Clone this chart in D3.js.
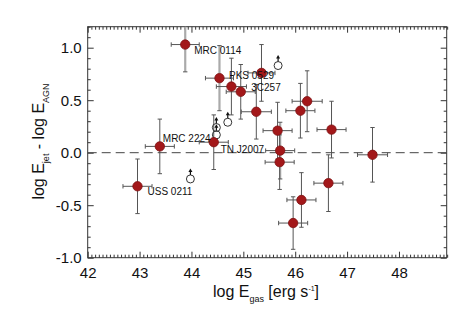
<!DOCTYPE html>
<html>
<head>
<meta charset="utf-8">
<script src="https://cdn.jsdelivr.net/npm/d3@7"></script>
<style>
  html, body { margin: 0; padding: 0; background: #fff; }
  svg { display: block; font-family: "Liberation Sans", Arial, Helvetica, sans-serif; }
</style>
</head>
<body>
<svg id="chart" width="472" height="314"></svg>
<script>
// measured points: log E_gas vs log E_jet - log E_AGN
const logEgas = [43.88, 44.54, 44.77, 44.95, 45.35, 45.25, 45.66, 45.71, 45.70, 46.10,
                 46.23, 46.70, 47.49, 46.64, 46.12, 45.96, 42.96, 43.39, 44.43];
const logRatio = [1.03, 0.71, 0.63, 0.58, 0.76, 0.39, 0.21, 0.02, -0.09, 0.40,
                  0.49, 0.22, -0.02, -0.29, -0.45, -0.67, -0.32, 0.06, 0.10];
const xErr = [0.27, 0.27, 0.29, 0.28, 0.26, 0.29, 0.28, 0.28, 0.28, 0.28,
              0.29, 0.28, 0.29, 0.28, 0.28, 0.28, 0.28, 0.28, 0.28];
const yErr = [0.26, 0.31, 0.27, 0.26, 0.27, 0.26, 0.27, 0.27, 0.26, 0.26,
              0.29, 0.27, 0.26, 0.27, 0.26, 0.25, 0.26, 0.26, 0.26];
// points whose vertical error bar is drawn in light grey
const lightYErr = [0, 1, 7];

// lower limits (open circles with arrows)
const limEgas = [45.67, 44.70, 44.48, 44.48, 43.98];
const limRatio = [0.83, 0.29, 0.24, 0.17, -0.25];

// source names and the point they belong to
const labelNames = ['MRC 0114', 'PKS 0529', '3C257', 'MRC 2224', 'TN J2007', 'USS 0211'];
const labelPoint = [0, 1, 3, 17, 18, 16];

const xTicks = [42, 43, 44, 45, 46, 47, 48];
const yTicks = [-1.0, -0.5, 0.0, 0.5, 1.0];

const W = 472, H = 314;
const L = 87.7, R = 446.7, T = 26.7, B = 257.7;

const svg = d3.select('#chart');
svg.append('rect').attr('width', W).attr('height', H).attr('fill', '#fff');

const x = d3.scaleLinear().domain([42, 48.92]).range([L, R]);
const y = d3.scaleLinear().domain([-1, 1.2]).range([B, T]);

const fmt = v => d3.format('.1f')(v).replace('\u2212', '-');
const axisCol = '#333';

const xMinor = d3.range(42, 48.93, 1 / 14).filter(v => Math.abs(v - Math.round(v)) > 1e-6);
const yMinor = d3.range(-1, 1.201, 0.1).filter(v => Math.abs(v * 2 - Math.round(v * 2)) > 1e-6);

function styleAxis(g) {
  g.select('.domain').remove();
  g.selectAll('line').attr('stroke', axisCol);
  g.selectAll('text').attr('fill', '#111').attr('font-size', 15)
    .attr('font-family', '"Liberation Sans", Arial, Helvetica, sans-serif');
}

// major + minor ticks on all four sides, pointing in
svg.append('g').attr('transform', `translate(0,${B})`)
  .call(d3.axisBottom(x).tickValues(xTicks).tickSize(-6).tickPadding(10).tickFormat(d3.format('d')))
  .call(styleAxis);
svg.append('g').attr('transform', `translate(0,${B})`)
  .call(d3.axisBottom(x).tickValues(xMinor).tickSize(-3).tickFormat(''))
  .call(styleAxis);
svg.append('g').attr('transform', `translate(0,${T})`)
  .call(d3.axisTop(x).tickValues(xTicks).tickSize(-6).tickFormat(''))
  .call(styleAxis);
svg.append('g').attr('transform', `translate(0,${T})`)
  .call(d3.axisTop(x).tickValues(xMinor).tickSize(-3).tickFormat(''))
  .call(styleAxis);

svg.append('g').attr('transform', `translate(${L},0)`)
  .call(d3.axisLeft(y).tickValues(yTicks).tickSize(-6).tickPadding(6).tickFormat(fmt))
  .call(styleAxis);
svg.append('g').attr('transform', `translate(${L},0)`)
  .call(d3.axisLeft(y).tickValues(yMinor).tickSize(-3).tickFormat(''))
  .call(styleAxis);
svg.append('g').attr('transform', `translate(${R},0)`)
  .call(d3.axisRight(y).tickValues(yTicks).tickSize(-6).tickFormat(''))
  .call(styleAxis);
svg.append('g').attr('transform', `translate(${R},0)`)
  .call(d3.axisRight(y).tickValues(yMinor).tickSize(-3).tickFormat(''))
  .call(styleAxis);

svg.append('rect')
  .attr('x', L).attr('y', T).attr('width', R - L).attr('height', B - T)
  .attr('fill', 'none').attr('stroke', axisCol).attr('stroke-width', 1);

// clip everything inside the frame
svg.append('defs').append('clipPath').attr('id', 'plot-clip')
  .append('rect').attr('x', L).attr('y', T).attr('width', R - L).attr('height', B - T);
const plot = svg.append('g').attr('clip-path', 'url(#plot-clip)');

// zero line
plot.append('line')
  .attr('x1', L).attr('x2', R).attr('y1', y(0)).attr('y2', y(0))
  .attr('stroke', '#444').attr('stroke-width', 1).attr('stroke-dasharray', '9 5');

const pts = logEgas.map((v, i) => ({
  x: v, y: logRatio[i], xe: xErr[i], ye: yErr[i], light: lightYErr.includes(i)
}));

const cap = 2.2;
const eb = plot.append('g').selectAll('g').data(pts).join('g');

// horizontal error bars
eb.append('line')
  .attr('x1', d => x(d.x - d.xe)).attr('x2', d => x(d.x + d.xe))
  .attr('y1', d => y(d.y)).attr('y2', d => y(d.y))
  .attr('stroke', '#555').attr('stroke-width', 1);
eb.selectAll('line.xcap').data(d => [[d.x - d.xe, d.y], [d.x + d.xe, d.y]]).join('line')
  .attr('class', 'xcap')
  .attr('x1', d => x(d[0])).attr('x2', d => x(d[0]))
  .attr('y1', d => y(d[1]) - cap).attr('y2', d => y(d[1]) + cap)
  .attr('stroke', '#555');

// vertical error bars
eb.append('line')
  .attr('x1', d => x(d.x)).attr('x2', d => x(d.x))
  .attr('y1', d => y(d.y - d.ye)).attr('y2', d => y(d.y + d.ye))
  .attr('stroke', d => d.light ? '#aaa' : '#555')
  .attr('stroke-width', d => d.light ? 2.2 : 1);
eb.selectAll('line.ycap').data(d => [[d.x, d.y - d.ye], [d.x, d.y + d.ye]]).join('line')
  .attr('class', 'ycap')
  .attr('x1', d => x(d[0]) - cap).attr('x2', d => x(d[0]) + cap)
  .attr('y1', d => y(d[1])).attr('y2', d => y(d[1]))
  .attr('stroke', '#555');

// lower limits
const lim = plot.append('g').selectAll('g')
  .data(limEgas.map((v, i) => ({ x: v, y: limRatio[i] })))
  .join('g')
  .attr('transform', d => `translate(${x(d.x)},${y(d.y)})`);
lim.append('circle').attr('r', 4).attr('fill', 'none').attr('stroke', '#333').attr('stroke-width', 1);
lim.append('line').attr('x1', 0).attr('x2', 0).attr('y1', -4).attr('y2', -8)
  .attr('stroke', '#111').attr('stroke-width', 1.2);
lim.append('path').attr('d', 'M0,-10.5L-2,-7L2,-7Z').attr('fill', '#111');

// filled points
plot.append('g').selectAll('circle').data(pts).join('circle')
  .attr('cx', d => x(d.x)).attr('cy', d => y(d.y)).attr('r', 4.7)
  .attr('fill', '#a3181a').attr('stroke', '#7d1012').attr('stroke-width', 0.8);

// source labels, offset from their points
const labelOffset = [[9, 9.5], [9.5, 0.5], [10.5, -1], [3, -4], [7, 10.5], [10, 8.5]];
svg.append('g').selectAll('text').data(labelNames).join('text')
  .attr('x', (d, i) => x(logEgas[labelPoint[i]]) + labelOffset[i][0])
  .attr('y', (d, i) => y(logRatio[labelPoint[i]]) + labelOffset[i][1])
  .attr('font-size', 10).attr('fill', '#111')
  .text(d => d);

// axis titles
const xt = svg.append('text').attr('x', 266).attr('y', 296.5)
  .attr('text-anchor', 'middle').attr('font-size', 16).attr('fill', '#111');
xt.append('tspan').text('log E');
xt.append('tspan').attr('dy', 5).attr('font-size', 9).text('gas');
xt.append('tspan').attr('dy', -5).text(' [erg s');
xt.append('tspan').attr('dy', -6).attr('font-size', 7).text('-1');
xt.append('tspan').attr('dy', 6).text(']');

const yt = svg.append('text').attr('transform', 'translate(43.5,141.5) rotate(-90)')
  .attr('text-anchor', 'middle').attr('font-size', 16).attr('fill', '#111');
yt.append('tspan').text('log E');
yt.append('tspan').attr('dy', 5).attr('font-size', 9).text('jet');
yt.append('tspan').attr('dy', -5).text(' - log E');
yt.append('tspan').attr('dy', 5).attr('font-size', 9).text('AGN');
</script>
</body>
</html>
